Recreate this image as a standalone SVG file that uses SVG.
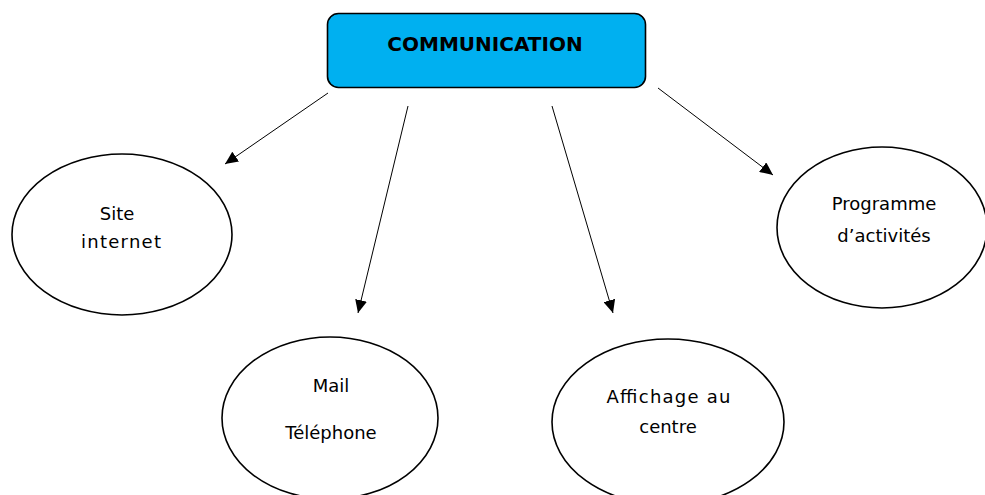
<svg xmlns="http://www.w3.org/2000/svg" width="985" height="495" viewBox="0 0 985 495">
<defs>
<style>
.node{fill:#ffffff;stroke:#000000;stroke-width:1.6}
.hub{fill:#00B0F0;stroke:#000000;stroke-width:1.6}
.lbl{font-family:"DejaVu Sans","Liberation Sans",sans-serif;font-size:18px;fill:#000000;text-anchor:middle}
.hubl{font-family:"DejaVu Sans","Liberation Sans",sans-serif;font-size:20px;font-weight:bold;fill:#000000;text-anchor:middle}
.edge{stroke:#000000;stroke-width:1;fill:none;marker-end:url(#arr)}
</style>
<marker id="arr" markerUnits="userSpaceOnUse" markerWidth="14" markerHeight="12" viewBox="0 0 14 12" refX="13" refY="6" orient="auto">
<path d="M0,0 L13,6 L0,12 Z" fill="#000000"/>
</marker>
</defs>
<rect width="985" height="495" fill="#ffffff"/>
<g id="communication">
<rect class="hub" x="327.5" y="13.5" width="318" height="74" rx="11" ry="11"/>
<text class="hubl" x="485" y="51">COMMUNICATION</text>
</g>
<g id="site-internet">
<ellipse class="node" cx="122" cy="234.5" rx="110" ry="80.5"/>
<text class="lbl" x="117" y="220">Site</text>
<text class="lbl" x="121" y="248" textLength="80" lengthAdjust="spacing">internet</text>
</g>
<g id="mail-telephone">
<ellipse class="node" cx="330" cy="418" rx="108" ry="81"/>
<text class="lbl" x="331" y="392">Mail</text>
<text class="lbl" x="331" y="439">Téléphone</text>
</g>
<g id="affichage">
<ellipse class="node" cx="668" cy="422" rx="116" ry="83"/>
<text class="lbl" x="668.5" y="403" textLength="124" lengthAdjust="spacing">Affichage au</text>
<text class="lbl" x="668" y="433">centre</text>
</g>
<g id="programme">
<ellipse class="node" cx="882" cy="227.5" rx="105" ry="80.5"/>
<text class="lbl" x="884" y="210">Programme</text>
<text class="lbl" x="884" y="242">d’activités</text>
</g>
<g id="connectors">
<line class="edge" x1="328" y1="93" x2="225" y2="164"/>
<line class="edge" x1="408" y1="106" x2="358" y2="313"/>
<line class="edge" x1="552" y1="106" x2="613" y2="313"/>
<line class="edge" x1="658" y1="88" x2="773" y2="175"/>
</g>
</svg>
